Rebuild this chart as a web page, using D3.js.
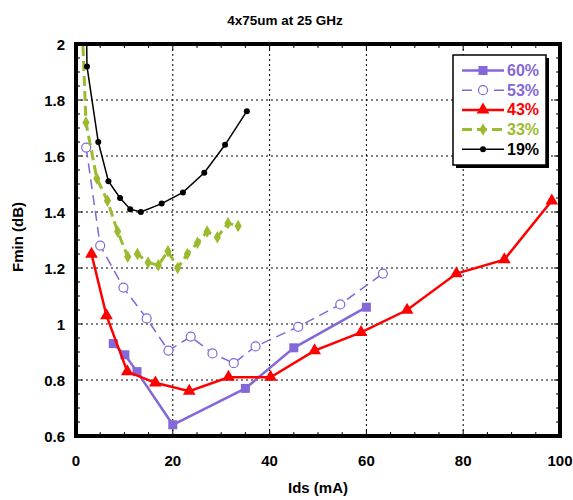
<!DOCTYPE html>
<html>
<head>
<meta charset="utf-8">
<script src="https://cdn.jsdelivr.net/npm/d3@7"></script>
<style>
body { margin: 0; background: #fff; }
text { font-family: "Liberation Sans", Arial, sans-serif; font-weight: bold; }
</style>
</head>
<body>
<div id="chart"></div>
<script>
var width = 573,
    height = 500;
var margin = {top: 44, left: 76, bottom: 64, right: 13};

// data
var x60 = [7.7, 10.1, 12.6, 20, 35, 45, 60];
var y60 = [0.93, 0.89, 0.83, 0.64, 0.77, 0.915, 1.06];

var x53 = [2.1, 5, 9.8, 14.6, 19.1, 23.7, 28.2, 32.6, 37.1, 45.9, 54.6, 63.4];
var y53 = [1.63, 1.28, 1.13, 1.02, 0.905, 0.955, 0.895, 0.86, 0.92, 0.99, 1.07, 1.18];

var x43 = [3.2, 6.3, 10.6, 16.4, 23.4, 31.5, 40.2, 49.3, 58.9, 68.4, 78.6, 88.5, 98.3];
var y43 = [1.25, 1.03, 0.83, 0.79, 0.76, 0.81, 0.81, 0.905, 0.97, 1.05, 1.18, 1.23, 1.44];

var x33 = [1.2, 2.06, 4.3, 6.5, 8.6, 10.7, 12.7, 14.9, 17, 19, 21, 23, 25.1, 27.1, 29.2, 31.4, 33.5];
var y33 = [2.1, 1.72, 1.52, 1.44, 1.33, 1.24, 1.25, 1.22, 1.21, 1.26, 1.2, 1.25, 1.29, 1.33, 1.31, 1.36, 1.35];

var x19 = [2.05, 2.27, 4.6, 6.7, 9.1, 11.2, 13.4, 17.7, 22.1, 26.5, 30.8, 35.3];
var y19 = [2.2, 1.92, 1.65, 1.51, 1.45, 1.41, 1.4, 1.43, 1.47, 1.54, 1.64, 1.76];

var xTicks = [0, 20, 40, 60, 80, 100];
var yTicks = [0.6, 0.8, 1, 1.2, 1.4, 1.6, 1.8, 2];

var series = [
  {name: "60%", xs: x60, ys: y60, color: "#8467d8", width: 2.5, dash: null, marker: "square", hideFirst: false},
  {name: "53%", xs: x53, ys: y53, color: "#8467d8", width: 1.5, dash: "10,6", marker: "open", hideFirst: false},
  {name: "43%", xs: x43, ys: y43, color: "#ff0000", width: 2.5, dash: null, marker: "triangle", hideFirst: false},
  {name: "33%", xs: x33, ys: y33, color: "#9bbb2f", width: 3, dash: "10,5", marker: "diamond", hideFirst: true},
  {name: "19%", xs: x19, ys: y19, color: "#000000", width: 1.5, dash: null, marker: "dot", hideFirst: true}
];

var x = d3.scaleLinear().domain([0, 100]).range([margin.left, width - margin.right]);
var y = d3.scaleLinear().domain([0.6, 2]).range([height - margin.bottom, margin.top]);

var svg = d3.select("#chart").append("svg")
  .attr("width", width)
  .attr("height", height);

svg.append("defs").append("clipPath").attr("id", "plotclip")
  .append("rect")
  .attr("x", x(0)).attr("y", y(2))
  .attr("width", x(100) - x(0)).attr("height", y(0.6) - y(2));

// dotted grid
var grid = svg.append("g");
grid.selectAll(".vg").data(xTicks.slice(1, -1)).enter().append("line")
  .attr("x1", d => x(d)).attr("x2", d => x(d))
  .attr("y1", y(2)).attr("y2", y(0.6))
  .attr("stroke", "#000").attr("stroke-width", 1).attr("stroke-dasharray", "2,3");
grid.selectAll(".hg").data(yTicks.slice(1, -1)).enter().append("line")
  .attr("y1", d => y(d)).attr("y2", d => y(d))
  .attr("x1", x(0)).attr("x2", x(100))
  .attr("stroke", "#000").attr("stroke-width", 1).attr("stroke-dasharray", "2,3");

// minor ticks inside the frame, all four sides
var xMinor = d3.range(0, 101, 5);
var yMinor = d3.range(0.6, 2.001, 0.05);
var ticks = svg.append("g").attr("stroke", "#000").attr("stroke-width", 1);
xMinor.forEach(function(v) {
  var len = v % 20 === 0 ? 6 : 4;
  ticks.append("line").attr("x1", x(v)).attr("x2", x(v)).attr("y1", y(0.6)).attr("y2", y(0.6) - len);
  ticks.append("line").attr("x1", x(v)).attr("x2", x(v)).attr("y1", y(2)).attr("y2", y(2) + len);
});
yMinor.forEach(function(v) {
  var major = Math.abs(Math.round(v * 5) - v * 5) < 1e-6;
  var len = major ? 6 : 4;
  ticks.append("line").attr("y1", y(v)).attr("y2", y(v)).attr("x1", x(0)).attr("x2", x(0) + len);
  ticks.append("line").attr("y1", y(v)).attr("y2", y(v)).attr("x1", x(100)).attr("x2", x(100) - len);
});

// series
var plot = svg.append("g").attr("clip-path", "url(#plotclip)");
var line = d3.line().x(d => x(d[0])).y(d => y(d[1]));

function drawMarker(g, s, cx, cy) {
  if (s.marker === "square") {
    g.append("rect").attr("x", cx - 4.5).attr("y", cy - 4.5).attr("width", 9).attr("height", 9).attr("fill", s.color);
  } else if (s.marker === "open") {
    g.append("circle").attr("cx", cx).attr("cy", cy).attr("r", 4.5).attr("fill", "#fff").attr("stroke", s.color).attr("stroke-width", 1.2);
  } else if (s.marker === "triangle") {
    g.append("path").attr("d", d3.symbol(d3.symbolTriangle, 70)()).attr("transform", "translate(" + cx + "," + cy + ")").attr("fill", s.color);
  } else if (s.marker === "diamond") {
    g.append("path").attr("d", d3.symbol(d3.symbolDiamond, 45)()).attr("transform", "translate(" + cx + "," + cy + ")").attr("fill", s.color);
  } else {
    g.append("circle").attr("cx", cx).attr("cy", cy).attr("r", 3).attr("fill", s.color);
  }
}

series.forEach(function(s) {
  var pts = s.xs.map((v, i) => [v, s.ys[i]]);
  plot.append("path")
    .datum(pts)
    .attr("d", line)
    .attr("fill", "none")
    .attr("stroke", s.color)
    .attr("stroke-width", s.width)
    .attr("stroke-dasharray", s.dash);
  var mg = plot.append("g");
  pts.forEach(function(p, i) {
    if (s.hideFirst && i === 0) return;
    drawMarker(mg, s, x(p[0]), y(p[1]));
  });
});

// frame
svg.append("rect")
  .attr("x", x(0)).attr("y", y(2))
  .attr("width", x(100) - x(0)).attr("height", y(0.6) - y(2))
  .attr("fill", "none").attr("stroke", "#000").attr("stroke-width", 4);

// tick labels
svg.append("g").selectAll("text").data(xTicks).enter().append("text")
  .attr("x", d => x(d)).attr("y", 466)
  .attr("text-anchor", "middle").attr("font-size", 15)
  .text(d => d);
svg.append("g").selectAll("text").data(yTicks).enter().append("text")
  .attr("x", 65).attr("y", d => y(d) + 5.5)
  .attr("text-anchor", "end").attr("font-size", 15)
  .text(d => d3.format("~g")(d));

// titles
svg.append("text").attr("x", 285).attr("y", 25).attr("text-anchor", "middle").attr("font-size", 13.5).text("4x75um at 25 GHz");
svg.append("text").attr("x", 318).attr("y", 493).attr("text-anchor", "middle").attr("font-size", 15).text("Ids (mA)");
svg.append("text").attr("transform", "translate(23,237) rotate(-90)").attr("text-anchor", "middle").attr("font-size", 15).text("Fmin (dB)");

// legend
var lg = svg.append("g");
lg.append("rect").attr("x", 456).attr("y", 58).attr("width", 93).attr("height", 110).attr("fill", "#000");
lg.append("rect").attr("x", 453).attr("y", 55).attr("width", 93).attr("height", 110).attr("fill", "#fff").attr("stroke", "#000").attr("stroke-width", 1.5);
series.forEach(function(s, i) {
  var ly = 70.5 + i * 19.7;
  lg.append("line").attr("x1", 462).attr("x2", 504).attr("y1", ly).attr("y2", ly)
    .attr("stroke", s.color).attr("stroke-width", s.width).attr("stroke-dasharray", s.dash);
  drawMarker(lg, s, 483, ly);
  lg.append("text").attr("x", 507).attr("y", ly + 5.5).attr("font-size", 16).attr("fill", s.color).text(s.name);
});
</script>
</body>
</html>
